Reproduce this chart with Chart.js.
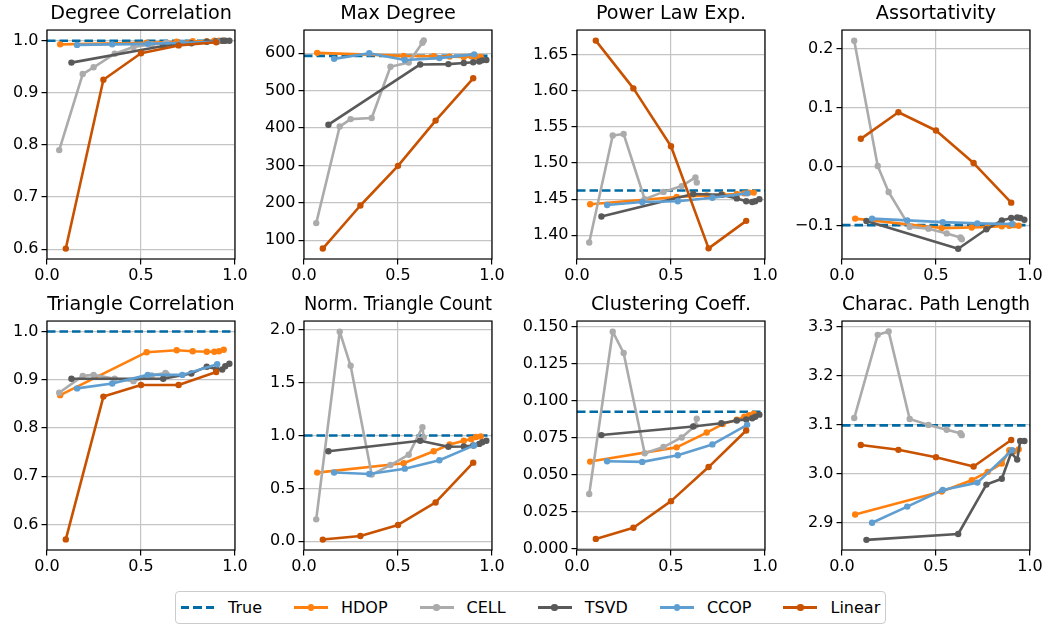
<!DOCTYPE html>
<html>
<head>
<meta charset="utf-8">
<script src="https://cdn.jsdelivr.net/npm/chart.js@4.4.1/dist/chart.umd.min.js"></script>
<style>
  html, body { margin: 0; padding: 0; background: #fff; }
  body { width: 1045px; height: 626px; position: relative; overflow: hidden; font-family: 'DejaVu Sans', sans-serif; }
  canvas.panel { position: absolute; }
  #legend {
    position: absolute; left: 175px; top: 591px; width: 711px; height: 33px;
    box-sizing: border-box; border: 1px solid #cccccc; border-radius: 4px;
    display: flex; align-items: center; padding-left: 5px;
    font: 16px 'DejaVu Sans', sans-serif; color: #000;
  }
  #legend .item { display: flex; align-items: center; margin-right: 32px; }
  #legend .handle { position: relative; width: 34px; height: 10px; margin-right: 13px; }
  #legend .ln { position: absolute; left: 0; right: 0; top: 3.7px; height: 2.6px; }
  #legend .dot { position: absolute; left: 13.8px; top: 1.8px; width: 6.4px; height: 6.4px; border-radius: 50%; }
</style>
</head>
<body>
<div id="legend"></div>
<script>
// ---- data ----
const TITLES = ['Degree Correlation', 'Max Degree', 'Power Law Exp.', 'Assortativity',
                'Triangle Correlation', 'Norm. Triangle Count', 'Clustering Coeff.', 'Charac. Path Length'];

const SERIES_NAMES = ['True', 'HDOP', 'CELL', 'TSVD', 'CCOP', 'Linear'];
const SERIES_COLORS = ['#006BA4', '#FF800E', '#ABABAB', '#595959', '#5F9ED1', '#C85200'];

const X_RANGE = [0, 1];
const X_TICKS = [0, 0.5, 1];

const HDOP_X   = [0.07, 0.53, 0.69, 0.775, 0.85, 0.89, 0.915, 0.94];
const CELL_X   = [0.065, 0.19, 0.248, 0.36, 0.46, 0.557, 0.63, 0.637];
const TSVD_X   = [0.13, 0.618, 0.768, 0.85, 0.9, 0.932, 0.948, 0.97];
const CCOP_X   = [0.16, 0.347, 0.536, 0.72, 0.905];
const LINEAR_X = [0.1, 0.3, 0.5, 0.7, 0.9];

// one row per panel, same order as TITLES
const TRUE_VALUES = [1.0, 593, 1.462, -0.099, 1.0, 1.0, 0.0924, 3.099];

const HDOP_Y = [
  [0.993, 0.996, 0.998, 0.999, 0.999, 1.0, 1.0, 1.0],
  [601, 593, 592, 591, 590, 592, 591, 590],
  [1.443, 1.453, 1.455, 1.456, 1.457, 1.458, 1.459, 1.459],
  [-0.088, -0.104, -0.103, -0.102, -0.101, -0.100, -0.099, -0.100],
  [0.868, 0.957, 0.961, 0.959, 0.958, 0.958, 0.959, 0.962],
  [0.649, 0.737, 0.850, 0.915, 0.950, 0.965, 0.985, 0.990],
  [0.0587, 0.0683, 0.0783, 0.0840, 0.0870, 0.0890, 0.0900, 0.0910],
  [2.917, 2.964, 2.987, 3.004, 3.021, 3.048, 3.046, 3.050]
];
const CELL_Y = [
  [0.790, 0.936, 0.949, 0.975, 0.988, 0.993, 0.995, 0.996],
  [146, 404, 424, 427, 564, 575, 628, 634],
  [1.390, 1.538, 1.540, 1.450, 1.460, 1.468, 1.480, 1.473],
  [0.213, 0.001, -0.043, -0.102, -0.105, -0.113, -0.120, -0.123],
  [0.873, 0.908, 0.910, 0.902, 0.897, 0.909, 0.914, 0.911],
  [0.207, 1.980, 1.658, 0.630, 0.720, 0.818, 1.078, 0.980],
  [0.0368, 0.1464, 0.1320, 0.0643, 0.0685, 0.0750, 0.0830, 0.0877],
  [3.114, 3.284, 3.291, 3.112, 3.100, 3.090, 3.083, 3.079]
];
const TSVD_Y = [
  [0.958, 0.990, 0.995, 0.998, 0.999, 1.0, 1.0, 1.0],
  [409, 570, 571, 574, 576, 578, 581, 582],
  [1.426, 1.457, 1.456, 1.451, 1.447, 1.446, 1.447, 1.450],
  [-0.092, -0.139, -0.106, -0.091, -0.087, -0.086, -0.087, -0.090],
  [0.902, 0.902, 0.913, 0.927, 0.922, 0.921, 0.928, 0.933],
  [0.850, 0.950, 0.893, 0.895, 0.905, 0.920, 0.935, 0.950],
  [0.0766, 0.0824, 0.0846, 0.0864, 0.0872, 0.0880, 0.0890, 0.0904],
  [2.865, 2.877, 2.978, 2.990, 3.043, 3.029, 3.067, 3.067]
];
const CCOP_Y = [
  [0.992, 0.993, 0.994, 0.996, 0.998],
  [585, 600, 582, 587, 597],
  [1.442, 1.446, 1.447, 1.452, 1.458],
  [-0.088, -0.091, -0.094, -0.096, -0.097],
  [0.882, 0.892, 0.910, 0.910, 0.932],
  [0.650, 0.636, 0.686, 0.765, 0.906],
  [0.0589, 0.0585, 0.0630, 0.0703, 0.0835],
  [2.900, 2.933, 2.967, 2.982, 3.048]
];
const LINEAR_Y = [
  [0.601, 0.925, 0.976, 0.991, 0.997],
  [78, 193, 299, 420, 533],
  [1.669, 1.603, 1.523, 1.382, 1.420],
  [0.047, 0.092, 0.061, 0.006, -0.061],
  [0.569, 0.865, 0.889, 0.889, 0.916],
  [0.016, 0.050, 0.154, 0.367, 0.743],
  [0.0065, 0.0140, 0.0320, 0.0550, 0.0797],
  [3.059, 3.049, 3.034, 3.015, 3.069]
];

const Y_MIN = [0.581, 50, 1.3673, -0.1563, 0.547, -0.0825, -0.001, 2.8443];
const Y_MAX = [1.0205, 662, 1.6836, 0.231, 1.0216, 2.081, 0.1536, 3.3122];
const Y_TICKS = [
  [0.6, 0.7, 0.8, 0.9, 1.0],
  [100, 200, 300, 400, 500, 600],
  [1.40, 1.45, 1.50, 1.55, 1.60, 1.65],
  [-0.1, 0.0, 0.1, 0.2],
  [0.6, 0.7, 0.8, 0.9, 1.0],
  [0.0, 0.5, 1.0, 1.5, 2.0],
  [0.000, 0.025, 0.050, 0.075, 0.100, 0.125, 0.150],
  [2.9, 3.0, 3.1, 3.2, 3.3]
];
const Y_DECIMALS = [1, 0, 2, 1, 1, 1, 3, 1];

// ---- layout ----
const PLOT_LEFT = [47, 304, 577, 842];
const ROW_TOP = [30, 321];
const PLOT_W = 188;
const PLOT_H = 229;
const SIDE = 75;      // room for y tick labels (mirrored on the right so the title centres)
const TITLE_H = 29;
const XAXIS_H = 30;
const FONT = 'DejaVu Sans';
const GRID = '#c4c4c4';

const METHOD_X = [HDOP_X, CELL_X, TSVD_X, CCOP_X, LINEAR_X];
const METHOD_Y = [HDOP_Y, CELL_Y, TSVD_Y, CCOP_Y, LINEAR_Y];

// matplotlib-style box around each axes
const frame = {
    id: 'frame',
    afterDatasetsDraw(chart) {
        const { ctx, chartArea: a } = chart;
        ctx.save();
        ctx.strokeStyle = '#000';
        ctx.lineWidth = 1.2;
        ctx.strokeRect(a.left, a.top, a.right - a.left, a.bottom - a.top);
        ctx.restore();
    }
};

function fmt(v, d) {
    const s = Math.abs(v).toFixed(d);
    return v < -1e-9 ? '\u2212' + s : s;
}

function makePanel(i) {
    const col = i % 4, row = Math.floor(i / 4);
    const canvas = document.createElement('canvas');
    canvas.className = 'panel';
    canvas.width = SIDE + PLOT_W + SIDE;
    canvas.height = TITLE_H + PLOT_H + XAXIS_H;
    canvas.style.left = (PLOT_LEFT[col] - SIDE) + 'px';
    canvas.style.top = (ROW_TOP[row] - TITLE_H) + 'px';
    document.body.appendChild(canvas);

    const datasets = [{
        label: SERIES_NAMES[0],
        data: X_RANGE.map(x => ({ x, y: TRUE_VALUES[i] })),
        borderColor: SERIES_COLORS[0],
        borderWidth: 2.6,
        borderDash: [8.5, 4],
        borderCapStyle: 'butt',
        pointRadius: 0,
        order: SERIES_NAMES.length - 1
    }];

    METHOD_X.forEach((xs, m) => {
        const color = SERIES_COLORS[m + 1];
        datasets.push({
            label: SERIES_NAMES[m + 1],
            data: xs.map((x, k) => ({ x, y: METHOD_Y[m][i][k] })),
            borderColor: color,
            backgroundColor: color,
            pointBackgroundColor: color,
            borderWidth: 2.6,
            borderJoinStyle: 'round',
            pointRadius: 3.2,
            pointBorderWidth: 0,
            pointHoverRadius: 0,
            tension: 0,
            fill: false,
            order: SERIES_NAMES.length - 2 - m
        });
    });

    new Chart(canvas.getContext('2d'), {
        type: 'line',
        data: { datasets },
        options: {
            responsive: false,
            animation: false,
            events: [],
            layout: { padding: { left: 0, right: SIDE, top: 0, bottom: 0 } },
            plugins: {
                legend: { display: false },
                tooltip: { enabled: false },
                title: {
                    display: true,
                    text: TITLES[i],
                    fullSize: false,
                    color: '#000',
                    font: { family: FONT, size: 19.2, weight: 'normal', lineHeight: 1.2 },
                    padding: { top: 1, bottom: 5 }
                }
            },
            scales: {
                x: {
                    type: 'linear',
                    min: X_RANGE[0],
                    max: X_RANGE[1],
                    afterBuildTicks: s => { s.ticks = X_TICKS.map(v => ({ value: v })); },
                    afterFit: s => { s.height = XAXIS_H; },
                    ticks: {
                        autoSkip: false, maxRotation: 0, padding: 2,
                        color: '#000',
                        font: { family: FONT, size: 16 },
                        callback: v => fmt(v, 1)
                    },
                    grid: { color: GRID, lineWidth: 1.2, tickLength: 5.5, tickColor: '#000', tickWidth: 1.2 },
                    border: { display: false }
                },
                y: {
                    type: 'linear',
                    min: Y_MIN[i],
                    max: Y_MAX[i],
                    afterBuildTicks: s => { s.ticks = Y_TICKS[i].map(v => ({ value: v })); },
                    afterFit: s => { s.width = SIDE; },
                    ticks: {
                        autoSkip: false, padding: 3,
                        color: '#000',
                        font: { family: FONT, size: 16 },
                        callback: v => fmt(v, Y_DECIMALS[i])
                    },
                    grid: { color: GRID, lineWidth: 1.2, tickLength: 5.5, tickColor: '#000', tickWidth: 1.2 },
                    border: { display: false }
                }
            }
        },
        plugins: [frame]
    });
}

TITLES.forEach((t, i) => makePanel(i));

// shared legend under the grid
const legend = document.getElementById('legend');
SERIES_NAMES.forEach((name, s) => {
    const item = document.createElement('div');
    item.className = 'item';
    const handle = document.createElement('span');
    handle.className = 'handle';
    const ln = document.createElement('span');
    ln.className = 'ln';
    if (s === 0) {
        ln.style.background = `repeating-linear-gradient(to right, ${SERIES_COLORS[s]} 0 8.5px, transparent 8.5px 12.5px)`;
    } else {
        ln.style.background = SERIES_COLORS[s];
        const dot = document.createElement('span');
        dot.className = 'dot';
        dot.style.background = SERIES_COLORS[s];
        handle.appendChild(ln);
        handle.appendChild(dot);
    }
    if (s === 0) handle.appendChild(ln);
    const txt = document.createElement('span');
    txt.textContent = name;
    item.appendChild(handle);
    item.appendChild(txt);
    legend.appendChild(item);
});
</script>
</body>
</html>
